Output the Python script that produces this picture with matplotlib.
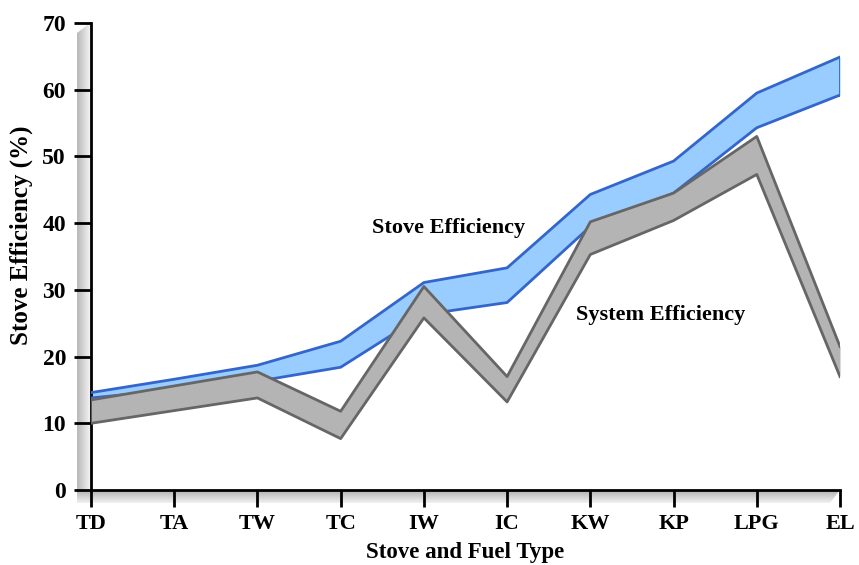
import numpy as np
import matplotlib.pyplot as plt
from matplotlib.patches import Polygon

plt.rcParams['font.family'] = ['Liberation Serif', 'DejaVu Serif']
plt.rcParams['font.weight'] = 'bold'

categories = ['TD', 'TA', 'TW', 'TC', 'IW', 'IC', 'KW', 'KP', 'LPG', 'EL']
stove_high = [14.6, 16.6, 18.7, 22.3, 31.1, 33.3, 44.3, 49.3, 59.5, 64.9]
stove_low = [13.8, 15.0, 16.3, 18.4, 26.3, 28.1, 39.5, 44.5, 54.3, 59.2]
system_high = [13.5, 15.6, 17.7, 11.8, 30.5, 17.0, 40.2, 44.5, 53.0, 21.5]
system_low = [10.0, 11.9, 13.8, 7.7, 25.8, 13.2, 35.3, 40.4, 47.3, 17.0]

W, H = 859, 565
fig = plt.figure(figsize=(W / 100, H / 100), dpi=100)

# 3D wall shading left of the y axis and below the x axis (pixel coords)
bg = fig.add_axes([0, 0, 1, 1], zorder=-1)
bg.set_xlim(0, W)
bg.set_ylim(H, 0)
bg.axis('off')
grad = np.linspace(0.72, 0.95, 64)
img = bg.imshow(grad[None, :], aspect='auto', cmap='gray', vmin=0, vmax=1,
                extent=[77, 90, 490, 23])
img.set_clip_path(Polygon([(77, 490), (77, 33), (90, 23), (90, 490)], transform=bg.transData))
img2 = bg.imshow(grad[:, None], aspect='auto', cmap='gray', vmin=0.1, vmax=1,
                 extent=[77, 840, 503, 490])
img2.set_clip_path(Polygon([(77, 490), (840, 490), (830, 503), (77, 503)], transform=bg.transData))

ax = fig.add_axes([91 / W, 1 - 490 / H, (840 - 91) / W, (490 - 23) / H])
ax.patch.set_alpha(0)
x = np.arange(len(categories))

# stove efficiency band (blue)
ax.fill_between(x, stove_low, stove_high, color='#99ccff', lw=0, zorder=2)
ax.plot(x, stove_high, color='#3366cc', lw=2, zorder=3)
ax.plot(x, stove_low, color='#3366cc', lw=2, zorder=3)
ax.plot([x[-1], x[-1]], [stove_low[-1], stove_high[-1]], color='#3366cc', lw=2, zorder=3)

# system efficiency band (gray), drawn on top
ax.fill_between(x, system_low, system_high, color='#b4b4b4', lw=0, zorder=4)
ax.plot(x, system_high, color='#666666', lw=2, zorder=5)
ax.plot(x, system_low, color='#666666', lw=2, zorder=5)

ax.text(4.3, 39.3, 'Stove Efficiency', fontsize=16, ha='center', va='center')
ax.text(6.85, 26.3, 'System Efficiency', fontsize=16, ha='center', va='center')

ax.set_xlim(0, len(categories) - 1)
ax.set_ylim(0, 70)
ax.set_xticks(x)
ax.set_xticklabels(categories)
ax.set_yticks(range(0, 71, 10))
ax.tick_params(axis='both', direction='out', length=12, width=2, pad=6)
ax.tick_params(axis='y', labelsize=17)
ax.tick_params(axis='x', labelsize=16, pad=5)
for s in ['top', 'right']:
    ax.spines[s].set_visible(False)
for s in ['left', 'bottom']:
    ax.spines[s].set_linewidth(2)
ax.set_xlabel('Stove and Fuel Type', fontsize=16.5, fontweight='bold', labelpad=6)
ax.set_ylabel('Stove Efficiency (%)', fontsize=18, fontweight='bold')
ax.yaxis.set_label_coords(-0.077, 0.545)

fig.savefig('out.png', dpi=100)
